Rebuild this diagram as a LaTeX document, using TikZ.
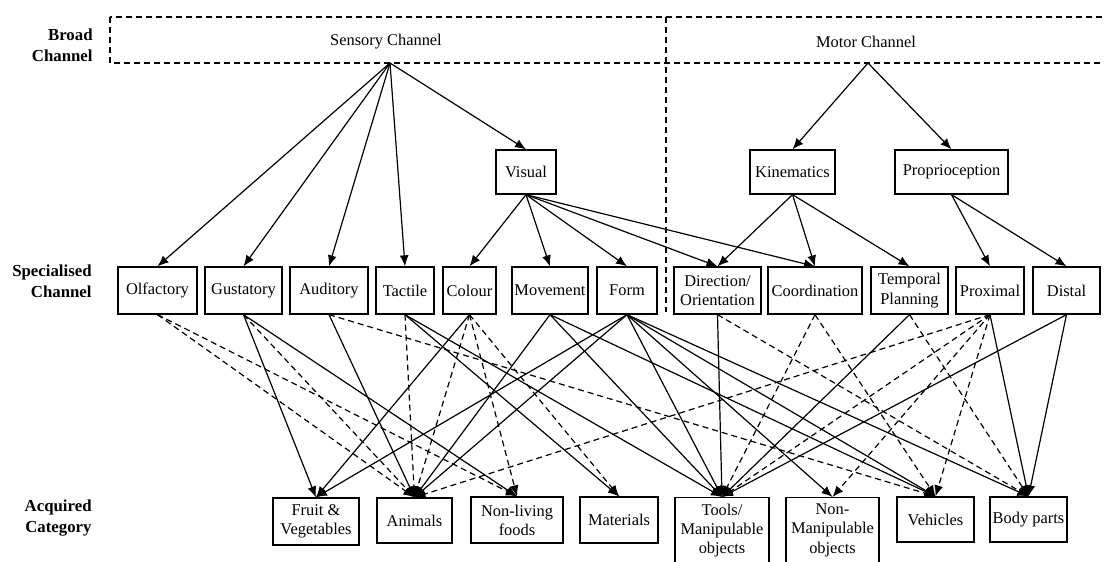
\documentclass[tikz,border=0pt]{standalone}
\usepackage{fontspec}
\setmainfont{Liberation Serif}
\usetikzlibrary{arrows.meta}
\begin{document}
\begin{tikzpicture}[x=0.5pt,y=-0.5pt,
  every node/.style={font=\fontsize{8.2}{9.6}\selectfont},
  bx/.style={draw, line width=0.65pt, inner sep=0pt, align=center},
  spec/.style={bx, minimum height=23.5pt, minimum width=#1},
  upper/.style={bx, minimum height=22pt, minimum width=#1},
  acq/.style={bx, minimum height=23pt, minimum width=#1},
  side/.style={font=\fontsize{8.4}{10.4}\selectfont\bfseries, align=right, anchor=east, inner sep=0pt},
  ar/.style={line width=0.6pt, -{Latex[length=5.5pt,width=4.5pt]}},
  da/.style={ar, dash pattern=on 3pt off 2pt},
  frame/.style={line width=0.6pt, dash pattern=on 3pt off 2pt}]
\useasboundingbox (0,0) rectangle (1104,562);
\clip (0,0) rectangle (1104,562);

% row labels
\node[side] (lbroad) at (93,45) {Broad\\Channel};
\node[side] (lspec) at (92,281) {Specialised\\Channel};
\node[side] (lacq) at (92,518) {Acquired\\Category};

% broad channels
\draw[frame] (110,17) rectangle (1125,63);
\draw[frame] (666,17) -- (666,312);
\node (sens) at (386,42) {Sensory Channel};
\node (mot) at (866,42) {Motor Channel};
\coordinate (sapex) at (390,63);
\coordinate (mapex) at (868,63);

% intermediate channels
\node[upper=30pt] (vis) at (526,172) {Visual};
\node[upper=42.5pt] (kin) at (792.5,172) {Kinematics};
\node[upper=56.5pt] (prop) at (951.5,172) {Proprioception};

% specialised channels
\node[spec=39.5pt] (olf) at (157.5,290.5) {Olfactory};
\node[spec=38.5pt] (gus) at (243.5,290.5) {Gustatory};
\node[spec=39pt] (aud) at (329,290.5) {Auditory};
\node[spec=29pt] (tac) at (405,290.5) {Tactile};
\node[spec=26.5pt] (col) at (469.5,290.5) {Colour};
\node[spec=38pt] (mov) at (550,290.5) {Movement};
\node[spec=30pt] (form) at (627,290.5) {Form};
\node[spec=43.5pt] (dir) at (717.5,290.5) {Direction/\\Orientation};
\node[spec=47pt] (coord) at (815,290.5) {Coordination};
\node[spec=38.5pt] (temp) at (909.5,290.5) {Temporal\\Planning};
\node[spec=34pt] (prox) at (990,290.5) {Proximal};
\node[spec=33.5pt] (dist) at (1066.5,290.5) {Distal};

% acquired categories
\node[acq=43pt, minimum height=23.5pt] (fruit) at (316,521.5) {Fruit \&\\Vegetables};
\node[acq=37.5pt, minimum height=22.5pt] (anim) at (414.5,520.5) {Animals};
\node[acq=46pt] (nonliv) at (517,520) {Non-living\\foods};
\node[acq=39pt] (mat) at (619,520) {Materials};
\node[bx, minimum width=47pt, inner ysep=3.2pt, anchor=north] (tools) at (722,497)
  {Tools/\\Manipulable\\objects\\[2pt]\mbox{}};
\node[bx, minimum width=46.5pt, inner ysep=3.2pt, anchor=north] (nonman) at (832.5,497)
  {Non-\\Manipulable\\objects\\[2pt]\mbox{}};
\node[acq=38.5pt, minimum height=22.5pt] (veh) at (935.5,519.5) {Vehicles};
\node[acq=38.5pt, minimum height=22.5pt] (body) at (1028.5,519.5) {Body parts};

% broad -> specialised
\foreach \t in {olf, gus, aud, tac, vis}
  \draw[ar] (sapex) -- (\t.north);
\foreach \t in {kin, prop}
  \draw[ar] (mapex) -- (\t.north);
\foreach \t in {col, mov, form, dir, coord}
  \draw[ar] (vis.south) -- (\t.north);
\foreach \t in {dir, coord, temp}
  \draw[ar] (kin.south) -- (\t.north);
\foreach \t in {prox, dist}
  \draw[ar] (prop.south) -- (\t.north);

% specialised -> acquired, strong links
\foreach \s/\t in {gus/fruit, gus/nonliv, aud/anim, tac/mat, tac/tools,
    col/fruit, mov/anim, mov/tools, mov/veh, form/fruit, form/anim,
    form/tools, form/nonman, form/veh, form/body, dir/tools, temp/tools,
    prox/body, dist/tools, dist/body}
  \draw[ar] (\s.south) -- (\t.north);

% specialised -> acquired, weak links
\foreach \s/\t in {olf/anim, olf/nonliv, gus/anim, aud/veh, tac/anim,
    col/anim, col/nonliv, col/mat, dir/body, coord/tools, coord/veh,
    temp/body, prox/anim, prox/tools, prox/nonman, prox/veh}
  \draw[da] (\s.south) -- (\t.north);
\end{tikzpicture}
\end{document}
